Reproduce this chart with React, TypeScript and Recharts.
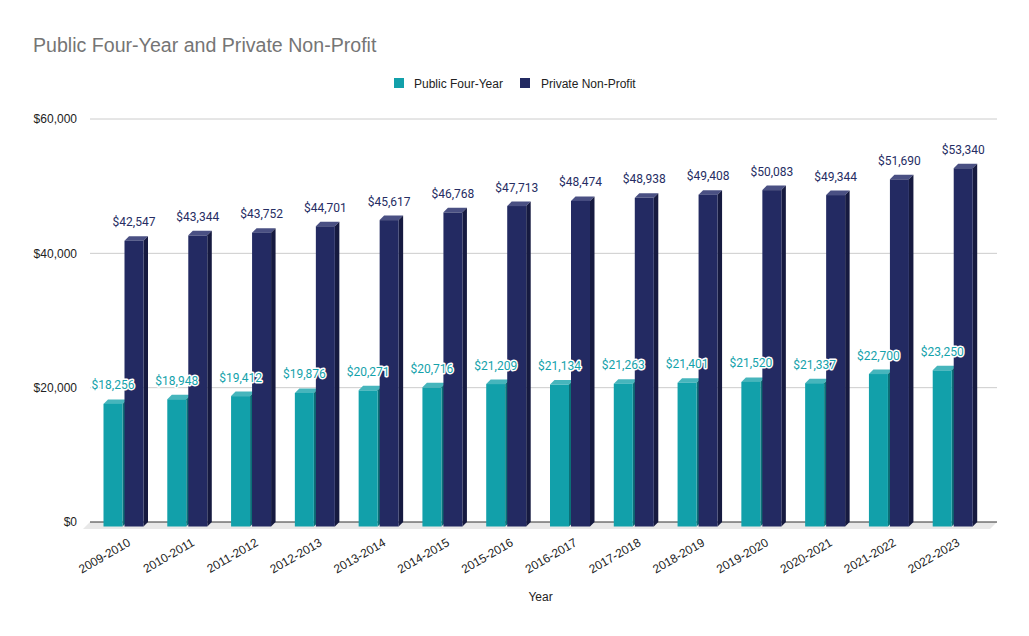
import React from 'react';
import { BarChart, Bar, XAxis, YAxis, CartesianGrid, LabelList } from 'recharts';

const years = ['2009-2010','2010-2011','2011-2012','2012-2013','2013-2014','2014-2015','2015-2016','2016-2017','2017-2018','2018-2019','2019-2020','2020-2021','2021-2022','2022-2023'];
const publicFourYear = [18256,18948,19412,19876,20271,20716,21209,21134,21263,21401,21520,21337,22700,23250];
const privateNonProfit = [42547,43344,43752,44701,45617,46768,47713,48474,48938,49408,50083,49344,51690,53340];
const yTicks = [0, 20000, 40000, 60000];
const seriesNames = ['Public Four-Year', 'Private Non-Profit'];

const data = years.map((y, i) => ({ year: y, pub: publicFourYear[i], priv: privateNonProfit[i] }));

const D = 4.5;
const TEAL = { front: '#12a0aa', top: '#46b5bc', side: '#0b6f76', label: '#14a2ab' };
const NAVY = { front: '#232a62', top: '#4a5083', side: '#161a40', label: '#262d63' };

const fmt = (v: number) => '$' + v.toLocaleString('en-US');

const make3D = (c: any) => (props: any) => {
  const { x, y, width: w, height: h } = props;
  if (w == null || h == null) return <g />;
  const fx = x - D;
  const fy = y + D;
  return (
    <g>
      <polygon points={`${fx},${fy} ${x},${y} ${x + w},${y} ${x + w - D},${fy}`} fill={c.top} />
      <polygon points={`${x + w - D},${fy} ${x + w},${y} ${x + w},${y + h} ${x + w - D},${y + h + D}`} fill={c.side} />
      <rect x={fx} y={fy} width={w} height={h} fill={c.front} />
    </g>
  );
};

const makeLabel = (c: any) => (props: any) => {
  const { x, y, width, value } = props;
  return (
    <text x={x + width / 2 - D} y={y - 10} textAnchor="middle" fontFamily="Roboto" fontSize={12}
      fill={c.label} stroke="#ffffff" strokeWidth={3} strokeLinejoin="round" paintOrder="stroke">
      {fmt(value)}
    </text>
  );
};

const gridLine = (props: any) => {
  const { x1, y1, x2, y2, y, height, index } = props;
  const isZero = Math.abs(y1 - (y + height)) < 0.6;
  if (isZero) {
    return (
      <g key={`g-${index}`}>
        <polygon points={`${x1},${y1} ${x2},${y1} ${x2 - 7},${y1 + 7} ${x1 - 7},${y1 + 7}`} fill="#e8e8e8" />
        <line x1={x1} y1={y1} x2={x2} y2={y2} stroke="#333333" strokeWidth={1} />
      </g>
    );
  }
  return <line key={`g-${index}`} x1={x1} y1={y1} x2={x2} y2={y2} stroke="#cccccc" strokeWidth={1} />;
};

const XTick = (props: any) => {
  const { x, y, payload } = props;
  const tx = x + 3.5;
  const ty = y + 23;
  return (
    <text x={tx} y={ty} textAnchor="end" fontFamily="Liberation Sans, Arial" fontSize={12} fill="#222222"
      transform={`rotate(-30 ${tx} ${ty})`}>
      {payload.value}
    </text>
  );
};

const YTick = (props: any) => {
  const { x, y, payload } = props;
  return (
    <text x={x} y={y} dy="0.35em" textAnchor="end" fontFamily="Liberation Sans, Arial" fontSize={12} fill="#222222">
      {fmt(payload.value)}
    </text>
  );
};

export default function App() {
  return (
    <div style={{ position: 'absolute', left: 0, top: 0, width: 1029, height: 636, background: '#ffffff' }}>
      <BarChart width={1029} height={636} data={data} margin={{ top: 119, right: 32, left: 0, bottom: 0 }}
        barSize={19} barGap={2}>
        <CartesianGrid vertical={false} horizontal={gridLine as any} />
        <XAxis dataKey="year" height={114} padding={{ left: 6, right: 8 }} axisLine={false} tickLine={false}
          tickSize={0} tickMargin={0} interval={0} tick={<XTick />}
          label={{ value: 'Year', position: 'insideBottom', offset: 35, dx: -3, fontFamily: 'Liberation Sans, Arial', fontSize: 12, fill: '#222222' }} />
        <YAxis width={90} domain={[0, 60000]} ticks={yTicks} axisLine={false} tickLine={false}
          tickSize={0} tickMargin={13} tick={<YTick />} />
        <Bar dataKey="pub" name={seriesNames[0]} fill={TEAL.front} shape={make3D(TEAL)} isAnimationActive={false}>
          <LabelList dataKey="pub" content={makeLabel(TEAL)} />
        </Bar>
        <Bar dataKey="priv" name={seriesNames[1]} fill={NAVY.front} shape={make3D(NAVY)} isAnimationActive={false}>
          <LabelList dataKey="priv" content={makeLabel(NAVY)} />
        </Bar>
      </BarChart>
      <svg width={1029} height={636} style={{ position: 'absolute', left: 0, top: 0, pointerEvents: 'none' }}>
        <text x={33} y={51.5} fontFamily="Liberation Sans, Arial" fontSize={19.6} fill="#757575">
          Public Four-Year and Private Non-Profit
        </text>
        <rect x={394} y={78} width={10} height={10} fill={TEAL.front} />
        <text x={414} y={88} fontFamily="Liberation Sans, Arial" fontSize={12} fill="#222222">{seriesNames[0]}</text>
        <rect x={520} y={78} width={10} height={10} fill={NAVY.front} />
        <text x={541} y={88} fontFamily="Liberation Sans, Arial" fontSize={12} fill="#222222">{seriesNames[1]}</text>
      </svg>
    </div>
  );
}
